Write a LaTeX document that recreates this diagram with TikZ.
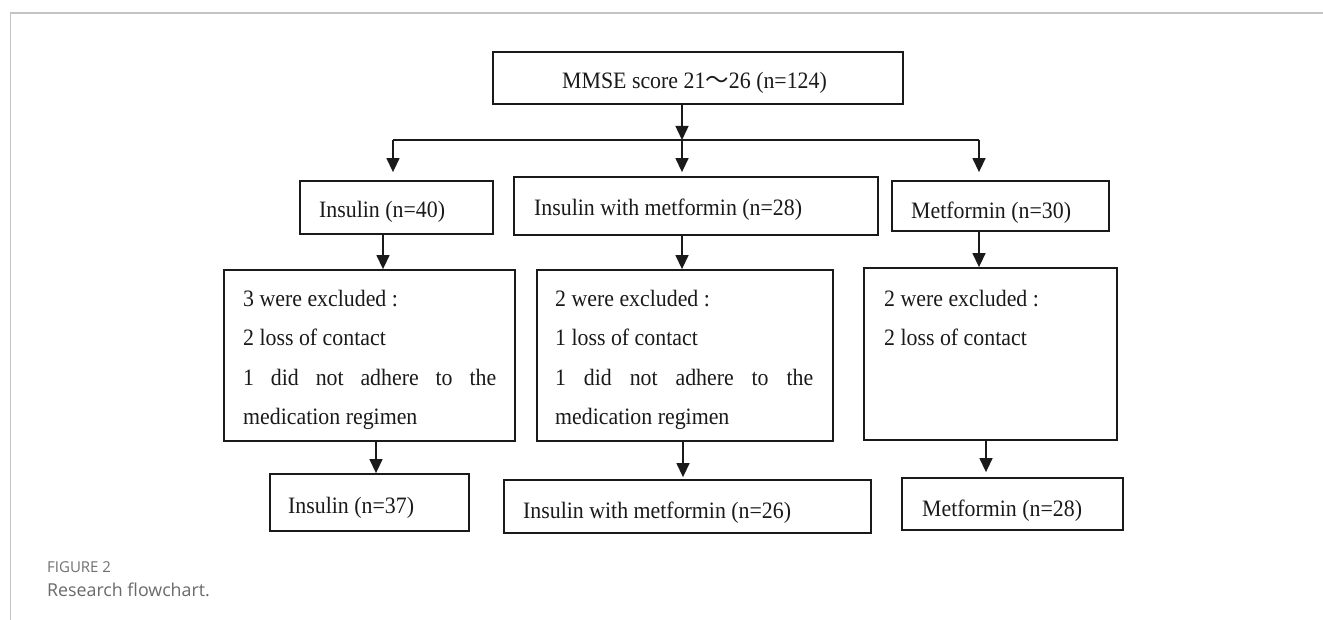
\documentclass[tikz,border=0pt]{standalone}
\usepackage{fontspec}
\setmainfont[FakeStretch=0.93]{Liberation Serif}
\newfontfamily\cjk{Noto Sans CJK SC}
\newfontfamily\capfont{Open Sans}
\usetikzlibrary{arrows.meta}
\definecolor{ink}{HTML}{1A1A1A}
\definecolor{framegray}{HTML}{C4C4C4}
\definecolor{capA}{HTML}{707070}
\definecolor{capB}{HTML}{6A6A6A}
\tikzset{
  box/.style={draw=ink, line width=1.8pt, rectangle, inner sep=0pt},
  lbl/.style={anchor=base west, inner sep=0pt, text=ink, font=\fontsize{23.5}{28}\selectfont},
  arr/.style={draw=ink, line width=1.4pt, -{Triangle[length=14pt,width=13pt]}},
  link/.style={draw=ink, line width=1.4pt},
}
\begin{document}
\begin{tikzpicture}[x=1pt,y=-1pt]
\useasboundingbox (0,0) rectangle (1323,620);
\fill[white] (0,0) rectangle (1323,620);
\draw[framegray, line width=1.8pt] (1323,12.7) -- (10.5,12.7) -- (10.5,620);

% boxes
\node[box, minimum width=410, minimum height=52] (top) at (698,78) {};
\node[box, minimum width=193, minimum height=53] (ins) at (396.5,207.5) {};
\node[box, minimum width=364, minimum height=58] (mix) at (696,206) {};
\node[box, minimum width=217, minimum height=50] (met) at (1000.5,206) {};
\node[box, minimum width=291, minimum height=171] (exL) at (369.5,355.5) {};
\node[box, minimum width=296, minimum height=171] (exM) at (685,355.5) {};
\node[box, minimum width=253, minimum height=172] (exR) at (990.5,354) {};
\node[box, minimum width=199, minimum height=57] (outL) at (369.5,502.5) {};
\node[box, minimum width=367, minimum height=53] (outM) at (687.5,506.5) {};
\node[box, minimum width=221, minimum height=52] (outR) at (1012.5,504) {};

% texts
\node[lbl] (ttop) at (562,89) {MMSE score 21{\cjk ～}26 (n=124)};
\node[lbl] (tins) at (319,218) {Insulin (n=40)};
\node[lbl] (tmix) at (534,216) {Insulin with metformin (n=28)};
\node[lbl] (tmet) at (911,219) {Metformin (n=30)};

\node[lbl] (eL1) at (243,307) {3 were excluded :};
\node[lbl] (eL2) at (243,346) {2 loss of contact};
\node[lbl] (eL3) at (243,385) {\makebox[253pt][s]{1 did not adhere to the}};
\node[lbl] (eL4) at (243,424) {medication regimen};

\node[lbl] (eM1) at (555,307) {2 were excluded :};
\node[lbl] (eM2) at (555,346) {1 loss of contact};
\node[lbl] (eM3) at (555,385) {\makebox[258pt][s]{1 did not adhere to the}};
\node[lbl] (eM4) at (555,424) {medication regimen};

\node[lbl] (eR1) at (884,307) {2 were excluded :};
\node[lbl] (eR2) at (884,346) {2 loss of contact};

\node[lbl] (toutL) at (288,513) {Insulin (n=37)};
\node[lbl] (toutM) at (523,518) {Insulin with metformin (n=26)};
\node[lbl] (toutR) at (922,516) {Metformin (n=28)};

% connectors
\coordinate (split) at (682,140);
\coordinate (hl) at (393,140);
\coordinate (hr) at (979,140);
\draw[arr] (split |- top.south) -- (split);
\draw[link] (hl) -- (hr);
\draw[arr, shorten >=8pt] (hl) -- (hl |- ins.north);
\draw[arr, shorten >=4pt] (split) -- (split |- mix.north);
\draw[arr, shorten >=8pt] (hr) -- (hr |- met.north);

\draw[arr] ([xshift=-13.5pt]ins.south) -- ([xshift=-13.5pt]ins.south |- exL.north);
\draw[arr] ([xshift=-14pt]mix.south) -- ([xshift=-14pt]mix.south |- exM.north);
\draw[arr] ([xshift=-21.5pt]met.south) -- ([xshift=-21.5pt]met.south |- exR.north);

\draw[arr] ([xshift=6.5pt]exL.south) -- ([xshift=6.5pt]exL.south |- outL.north);
\draw[arr, shorten >=2pt] ([xshift=-2pt]exM.south) -- ([xshift=-2pt]exM.south |- outM.north);
\draw[arr, shorten >=5pt] ([xshift=-4.5pt]exR.south) -- ([xshift=-4.5pt]exR.south |- outR.north);

% caption
\node[anchor=base west, inner sep=0pt, text=capA, font=\capfont\fontsize{15}{17}\selectfont] (capnum) at (47,572) {FIGURE 2};
\node[anchor=base west, inner sep=0pt, text=capB, font=\capfont\fontsize{17.8}{21}\selectfont] (captxt) at (47,596) {Research flowchart.};
\end{tikzpicture}
\end{document}
